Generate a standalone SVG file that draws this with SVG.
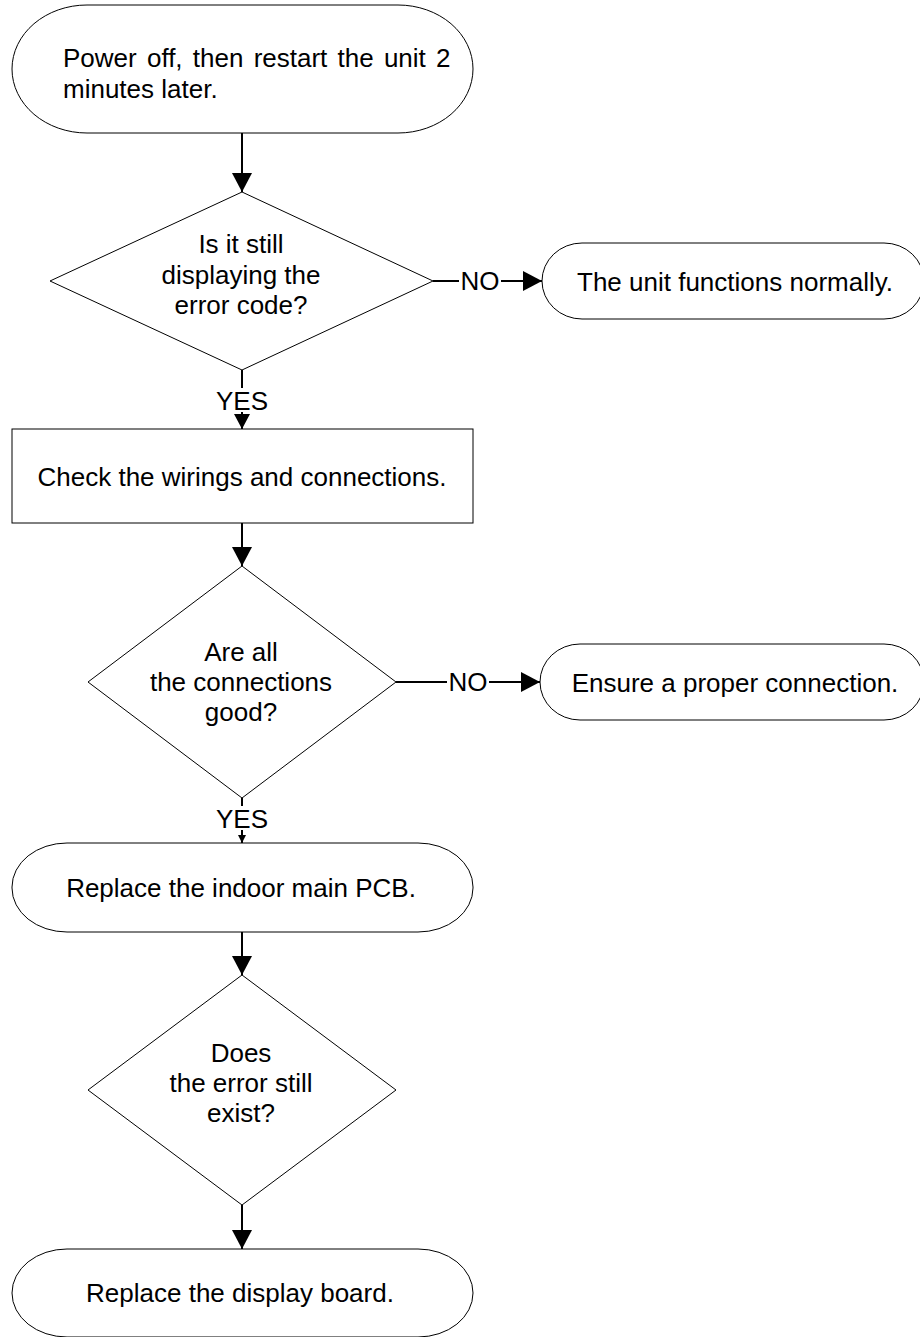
<svg xmlns="http://www.w3.org/2000/svg" width="920" height="1337" viewBox="0 0 920 1337">
<style>
.shape{fill:#fff;stroke:#000;stroke-width:1}
.t{font-family:"Liberation Sans",Arial,Helvetica,sans-serif;font-size:26px;fill:#000}
.m{text-anchor:middle}
.c{stroke:#000;stroke-width:2;fill:none}
.bg{fill:#fff;stroke:none}
</style>
<defs>
<marker id="ah" markerUnits="userSpaceOnUse" markerWidth="19" markerHeight="20" refX="19" refY="10" orient="auto"><path d="M0,0 L19,10 L0,20 Z" fill="#000"/></marker>
<marker id="ahs" markerUnits="userSpaceOnUse" markerWidth="15" markerHeight="16" refX="15" refY="8" orient="auto"><path d="M0,0 L15,8 L0,16 Z" fill="#000"/></marker>
<marker id="ahxs" markerUnits="userSpaceOnUse" markerWidth="8" markerHeight="8" refX="8" refY="4" orient="auto"><path d="M0,0 L8,4 L0,8 Z" fill="#000"/></marker>
</defs>
<rect width="920" height="1337" fill="#fff"/>

<g id="connectors">
<path class="c" d="M242,133 V192" marker-end="url(#ah)"/>
<path class="c" d="M242,370 V429" marker-end="url(#ahs)"/>
<rect class="bg" x="214" y="388" width="56" height="24"/>
<text class="t m" x="242" y="410">YES</text>
<path class="c" d="M433,281 H542" marker-end="url(#ah)"/>
<rect class="bg" x="459" y="268" width="42" height="26"/>
<text class="t m" x="480" y="290">NO</text>
<path class="c" d="M242,523 V566" marker-end="url(#ah)"/>
<path class="c" d="M396,682 H540" marker-end="url(#ah)"/>
<rect class="bg" x="447" y="669" width="42" height="26"/>
<text class="t m" x="468" y="691">NO</text>
<path class="c" d="M242,798 V843" marker-end="url(#ahxs)"/>
<rect class="bg" x="214" y="806" width="56" height="24"/>
<text class="t m" x="242" y="828">YES</text>
<path class="c" d="M242,932 V975" marker-end="url(#ah)"/>
<path class="c" d="M242,1205 V1249" marker-end="url(#ah)"/>
</g>

<g id="start">
<rect class="shape" x="12" y="5" width="461" height="128" rx="75" ry="64"/>
<text class="t" x="63" y="67" word-spacing="3">Power off, then restart the unit 2</text>
<text class="t" x="63" y="98">minutes later.</text>
</g>

<g id="decision1">
<polygon class="shape" points="242,192 433,281 242,370 50,281"/>
<text class="t m" x="241" y="253">Is it still</text>
<text class="t m" x="241" y="284">displaying the</text>
<text class="t m" x="241" y="314">error code?</text>
</g>

<g id="normal">
<rect class="shape" x="542" y="243" width="382" height="76" rx="40" ry="38"/>
<text class="t m" x="735" y="291">The unit functions normally.</text>
</g>

<g id="check">
<rect class="shape" x="12" y="429" width="461" height="94"/>
<text class="t m" x="242" y="486">Check the wirings and connections.</text>
</g>

<g id="decision2">
<polygon class="shape" points="242,566 396,682 242,798 88,682"/>
<text class="t m" x="241" y="661">Are all</text>
<text class="t m" x="241" y="691">the connections</text>
<text class="t m" x="241" y="721">good?</text>
</g>

<g id="ensure">
<rect class="shape" x="540" y="644" width="384" height="76" rx="40" ry="38"/>
<text class="t m" x="735" y="692">Ensure a proper connection.</text>
</g>

<g id="replacePCB">
<rect class="shape" x="12" y="843" width="461" height="89" rx="55" ry="44"/>
<text class="t m" x="241" y="897">Replace the indoor main PCB.</text>
</g>

<g id="decision3">
<polygon class="shape" points="242,975 396,1090 242,1205 88,1090"/>
<text class="t m" x="241" y="1062">Does</text>
<text class="t m" x="241" y="1092">the error still</text>
<text class="t m" x="241" y="1122">exist?</text>
</g>

<g id="replaceDisplay">
<rect class="shape" x="12" y="1249" width="461" height="88" rx="55" ry="44"/>
<text class="t m" x="240" y="1302">Replace the display board.</text>
</g>
</svg>
